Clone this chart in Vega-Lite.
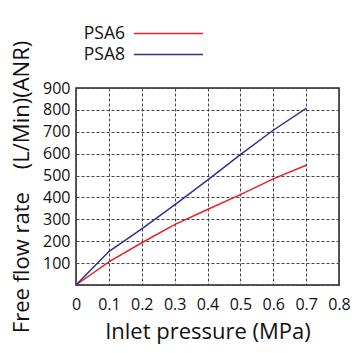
{
  "$schema": "https://vega.github.io/schema/vega-lite/v6.json",
  "width": 263,
  "height": 197,
  "autosize": {"type": "none"},
  "padding": {"left": 76, "top": 88, "right": 17, "bottom": 68},
  "background": "white",
  "data": {
    "values": [
      {"p": 0, "q": 0, "s": "PSA6"},
      {"p": 0.1, "q": 106, "s": "PSA6"},
      {"p": 0.2, "q": 193, "s": "PSA6"},
      {"p": 0.3, "q": 276, "s": "PSA6"},
      {"p": 0.4, "q": 345, "s": "PSA6"},
      {"p": 0.5, "q": 413, "s": "PSA6"},
      {"p": 0.6, "q": 485, "s": "PSA6"},
      {"p": 0.7, "q": 547, "s": "PSA6"},
      {"p": 0, "q": 0, "s": "PSA8"},
      {"p": 0.1, "q": 153, "s": "PSA8"},
      {"p": 0.2, "q": 256, "s": "PSA8"},
      {"p": 0.3, "q": 366, "s": "PSA8"},
      {"p": 0.4, "q": 479, "s": "PSA8"},
      {"p": 0.5, "q": 596, "s": "PSA8"},
      {"p": 0.6, "q": 707, "s": "PSA8"},
      {"p": 0.7, "q": 807, "s": "PSA8"}
    ]
  },
  "mark": {"type": "line", "strokeWidth": 1.5, "clip": false},
  "encoding": {
    "x": {
      "field": "p", "type": "quantitative",
      "scale": {"domain": [0, 0.8], "nice": false},
      "axis": {
        "values": [0, 0.1, 0.2, 0.3, 0.4, 0.5, 0.6, 0.7, 0.8],
        "labelExpr": "datum.value == 0 ? '0' : format(datum.value, '.1f')",
        "labelOverlap": false,
        "labelFlush": false,
        "title": "Inlet pressure (MPa)",
        "titleFontSize": 22,
        "labelPadding": 11,
        "titlePadding": 9
      }
    },
    "y": {
      "field": "q", "type": "quantitative",
      "scale": {"domain": [0, 900], "nice": false},
      "axis": {
        "values": [0, 100, 200, 300, 400, 500, 600, 700, 800, 900],
        "labelExpr": "datum.value == 0 ? '' : datum.label",
        "labelOverlap": false,
        "labelFlush": false,
        "title": "Free flow rate\u00a0\u00a0\u00a0\u00a0(L/Min)(ANR)",
        "titleFontSize": 22,
        "labelPadding": 6,
        "titlePadding": 9
      }
    },
    "color": {
      "field": "s", "type": "nominal",
      "scale": {"domain": ["PSA6", "PSA8"], "range": ["#e8202a", "#2e3192"]},
      "legend": {
        "orient": "none",
        "legendX": 81,
        "legendY": -66,
        "title": null,
        "symbolType": "M-3.286,0H3.286",
        "symbolSize": 441,
        "symbolStrokeWidth": 1.5,
        "labelAlign": "right",
        "labelOffset": -55,
        "labelFontSize": 17.5,
        "labelFont": "Open Sans",
        "labelColor": "#111",
        "rowPadding": 1
      }
    }
  },
  "config": {
    "font": "Open Sans",
    "view": {"stroke": "#222", "strokeWidth": 1.5},
    "axis": {
      "domain": false,
      "ticks": false,
      "grid": true,
      "gridColor": "#444",
      "gridDash": [3, 2],
      "gridWidth": 1,
      "gridOpacity": 1,
      "labelFontSize": 16,
      "labelColor": "#111",
      "labelFont": "Open Sans",
      "titleFontWeight": "normal",
      "titleColor": "#111",
      "titleFont": "Open Sans"
    }
  }
}
